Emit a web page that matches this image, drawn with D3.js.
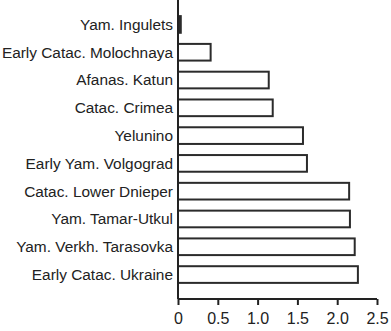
<!DOCTYPE html>
<html>
<head>
<meta charset="utf-8">
<script src="https://cdn.jsdelivr.net/npm/d3@7"></script>
<style>
  body { margin: 0; background: #fff; }
  text { font-family: "Liberation Sans", Arial, sans-serif; }
</style>
</head>
<body>
<div id="chart"></div>
<script>
// categories top to bottom and their values
const groups = ["Yam. Ingulets", "Early Catac. Molochnaya", "Afanas. Katun", "Catac. Crimea",
  "Yelunino", "Early Yam. Volgograd", "Catac. Lower Dnieper", "Yam. Tamar-Utkul",
  "Yam. Verkh. Tarasovka", "Early Catac. Ukraine"]
const values = [0.035, 0.41, 1.14, 1.19, 1.57, 1.62, 2.15, 2.16, 2.22, 2.26]
const xTicks = [0, 0.5, 1.0, 1.5, 2.0, 2.5]

const width = 391, height = 331
const svg = d3.select("#chart").append("svg")
  .attr("width", width)
  .attr("height", height)

const x = d3.scaleLinear().domain([0, 2.5]).range([178, 377])
const y = d3.scaleBand().domain(groups).range([5, 294]).padding(0.4)

// bars
svg.append("g")
  .selectAll("rect")
  .data(values)
  .enter()
  .append("rect")
  .attr("x", x(0))
  .attr("y", (d, i) => y(groups[i]))
  .attr("width", d => x(d) - x(0))
  .attr("height", y.bandwidth())
  .style("fill", (d, i) => i === 0 ? "#2b2b2b" : "#fff")
  .style("stroke", "#2b2b2b")
  .style("stroke-width", 2)

// category labels
svg.append("g")
  .selectAll("text")
  .data(groups)
  .enter()
  .append("text")
  .attr("x", 173)
  .attr("y", d => y(d) + y.bandwidth() / 2)
  .attr("dy", "0.35em")
  .attr("text-anchor", "end")
  .style("font-size", "15.4px")
  .style("fill", "#222")
  .text(d => d)

// y axis line (no ticks)
svg.append("line")
  .attr("x1", x(0)).attr("x2", x(0))
  .attr("y1", 0).attr("y2", 299)
  .style("stroke", "#222")
  .style("stroke-width", 2)

// x axis
const xAxis = svg.append("g")
  .attr("transform", "translate(0,299)")
  .call(d3.axisBottom(x).tickValues(xTicks).tickSize(6).tickPadding(8)
    .tickFormat(d => d === 0 ? "0" : d3.format(".1f")(d)))
xAxis.select(".domain").attr("d", `M${x(0)},0H${x(2.5)}`).style("stroke", "#222").style("stroke-width", 2)
xAxis.selectAll(".tick line").style("stroke", "#222").style("stroke-width", 2)
xAxis.selectAll(".tick text").style("font-size", "16px").style("fill", "#222")
  .style("font-family", "'Liberation Sans', Arial, sans-serif")
</script>
</body>
</html>
